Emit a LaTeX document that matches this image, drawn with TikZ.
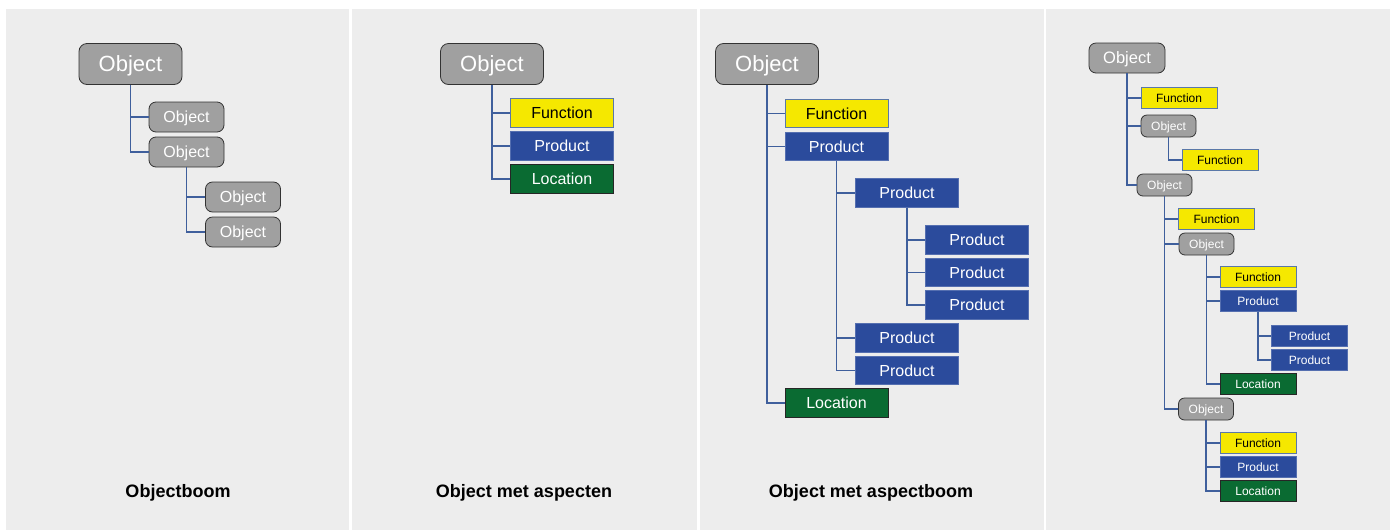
\documentclass[tikz,border=0pt]{standalone}
\usepackage{fontspec}
\setmainfont{Liberation Sans}
\usetikzlibrary{positioning}
\definecolor{cpanel}{HTML}{EDEDED}
\definecolor{cobj}{HTML}{A0A0A0}
\definecolor{cyellow}{HTML}{F5E800}
\definecolor{cblue}{HTML}{2B4B9C}
\definecolor{cgreen}{HTML}{0A6B32}
\definecolor{cline}{HTML}{3F5F9C}
\definecolor{cfnline}{HTML}{5A78A8}
\tikzset{
  every picture/.style={x=1pt, y=-1pt},
  panel/.style={fill=cpanel, draw=none},
  obj/.style={draw=black!80, fill=cobj, text=white, rounded corners=#1, inner sep=0pt, line width=0.8pt},
  obj/.default=7pt,
  fn/.style={draw=cfnline, fill=cyellow, text=black, inner sep=0pt, line width=0.8pt},
  prod/.style={draw=cblue!80!white, fill=cblue, text=white, inner sep=0pt, line width=0.6pt},
  loc/.style={draw=black!85, fill=cgreen, text=white, inner sep=0pt, line width=0.8pt},
  tree/.style={draw=cline, line width=1.4pt},
  title/.style={font=\fontsize{18}{20}\selectfont\bfseries},
}
\begin{document}
\begin{tikzpicture}[
  lg/.style={minimum width=103pt, minimum height=41pt, text height=15.5pt, text depth=0pt, font=\fontsize{22}{24}\selectfont},
  md/.style={minimum width=75pt, minimum height=30pt, text height=11.3pt, text depth=0pt, font=\fontsize{16}{18}\selectfont},
  asp/.style={minimum width=103pt, minimum height=28.5pt, text height=11.3pt, text depth=0pt, font=\fontsize{16}{18}\selectfont},
  sm/.style={minimum width=76pt, minimum height=30pt, text height=11.7pt, text depth=0pt, font=\fontsize{16.5}{18}\selectfont},
  xs/.style={minimum width=55pt, minimum height=22pt, text height=8.5pt, text depth=0pt, font=\fontsize{12}{14}\selectfont},
  xa/.style={minimum width=76pt, minimum height=21pt, text height=8.5pt, text depth=0pt, font=\fontsize{12}{14}\selectfont}]
  \useasboundingbox[fill=white] (0,0) rectangle (1395,531);
  \foreach \l/\r in {6/349, 352/697, 700/1044, 1046/1390}
    \fill[panel] (\l,9) rectangle (\r,530);

  \node[obj=8pt, lg] (ao) at (130.5,64) {Object};
  \node[obj, md] (a1) at (186.5,117) {Object};
  \node[obj, md] (a2) at (186.5,152) {Object};
  \node[obj, md] (a3) at (243,197) {Object};
  \node[obj, md] (a4) at (243,232) {Object};
  \foreach \c in {a1,a2} \draw[tree] (ao.south) |- (\c.west);
  \foreach \c in {a3,a4} \draw[tree] (a2.south) |- (\c.west);
  \node[title] (at) at (178,493) {Objectboom};

  \node[obj=8pt, lg] (bo) at (492,64) {Object};
  \foreach \s/\t [count=\i] in {fn/Function, prod/Product, loc/Location} {
    \node[\s, asp] (b\i) at (562, 80+33*\i) {\t};
    \draw[tree] (bo.south) |- (b\i.west);
  }
  \node[title] (bt) at (524,493) {Object met aspecten};

  \node[obj=8pt, lg] (co) at (767,64) {Object};
  \node[fn, asp] (cf) at (836.5,113.5) {Function};
  \node[prod, asp] (cp) at (836.5,146.5) {Product};
  \node[loc, asp] (cl) at (836.5,403) {Location};
  \node[prod, asp] (cq1) at (907,193) {Product};
  \node[prod, asp] (cq2) at (907,338) {Product};
  \node[prod, asp] (cq3) at (907,370.5) {Product};
  \foreach \y [count=\i] in {240,272.5,305}
    \node[prod, asp] (cr\i) at (977,\y) {Product};
  \foreach \c in {cf,cp,cl} \draw[tree] (co.south) |- (\c.west);
  \foreach \c in {cq1,cq2,cq3} \draw[tree] (cp.south) |- (\c.west);
  \foreach \c in {cr1,cr2,cr3} \draw[tree] (cq1.south) |- (\c.west);
  \node[title] (ct) at (871,493) {Object met aspectboom};

  \node[obj=7pt, sm] (do) at (1127,58) {Object};
  \node[fn, xa] (df1) at (1179,98) {Function};
  \node[obj=6pt, xs] (d1) at (1168.5,126) {Object};
  \node[fn, xa] (df2) at (1220,160) {Function};
  \node[obj=6pt, xs] (d2) at (1164.5,185) {Object};
  \node[fn, xa] (df3) at (1216.5,219) {Function};
  \node[obj=6pt, xs] (d3) at (1206.5,244) {Object};
  \node[fn, xa] (df4) at (1258,277) {Function};
  \node[prod, xa] (dp4) at (1258,301) {Product};
  \node[prod, xa] (dq1) at (1309.5,336) {Product};
  \node[prod, xa] (dq2) at (1309.5,360) {Product};
  \node[loc, xa] (dl4) at (1258,384) {Location};
  \node[obj=6pt, xs] (d4) at (1206,409) {Object};
  \foreach \s/\t [count=\i] in {fn/Function, prod/Product, loc/Location} {
    \node[\s, xa] (de\i) at (1258, 419+24*\i) {\t};
    \draw[tree] (d4.south) |- (de\i.west);
  }
  \foreach \c in {df1,d1,d2} \draw[tree] (do.south) |- (\c.west);
  \draw[tree] (d1.south) |- (df2.west);
  \foreach \c in {df3,d3,d4} \draw[tree] (d2.south) |- (\c.west);
  \foreach \c in {df4,dp4,dl4} \draw[tree] (d3.south) |- (\c.west);
  \foreach \c in {dq1,dq2} \draw[tree] (dp4.south) |- (\c.west);
\end{tikzpicture}
\end{document}
